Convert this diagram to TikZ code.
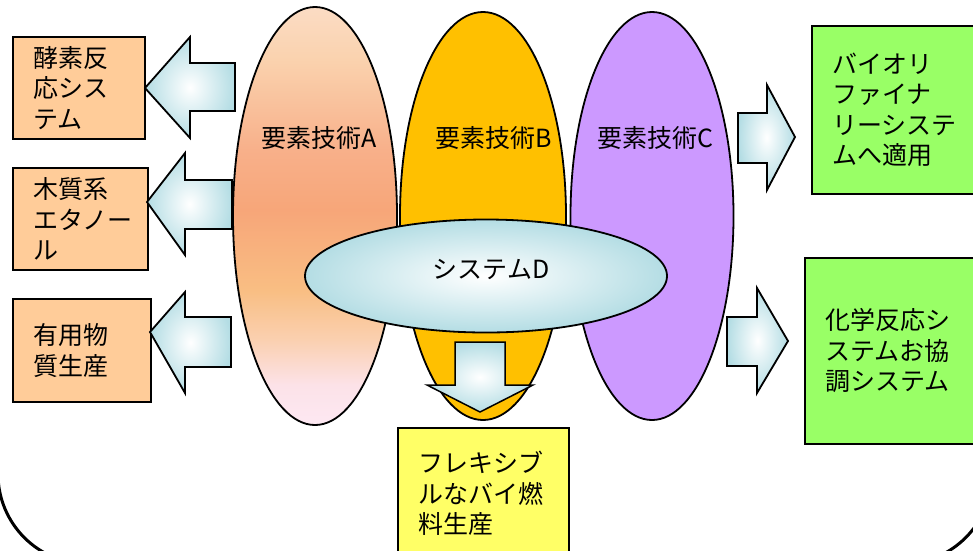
\documentclass[tikz,border=0pt]{standalone}
\usepackage{fontspec}
\setmainfont{Noto Sans CJK JP}
\usetikzlibrary{shapes.geometric}
\definecolor{peach}{HTML}{FFCC99}
\definecolor{lgreen}{HTML}{99FF66}
\definecolor{lyellow}{HTML}{FFFF66}
\definecolor{gold}{HTML}{FFC000}
\definecolor{lilac}{HTML}{CC99FF}
\definecolor{aqua}{HTML}{B4DDE4}
\definecolor{aa1}{HTML}{FBDCC4}
\definecolor{aa2}{HTML}{FAD2AE}
\definecolor{aa3}{HTML}{F8B08A}
\definecolor{aa4}{HTML}{F7A679}
\definecolor{aa5}{HTML}{F9BE83}
\definecolor{aa6}{HTML}{FAD0B0}
\definecolor{aa7}{HTML}{FCE2E8}
\definecolor{aa8}{HTML}{FDE8F2}
\pgfdeclareverticalshading{ashade}{100bp}{color(0bp)=(aa8); color(25bp)=(aa8); color(29.8bp)=(aa7); color(35.2bp)=(aa6); color(41.1bp)=(aa5); color(50.7bp)=(aa4); color(57.9bp)=(aa3); color(68.7bp)=(aa2); color(75bp)=(aa1); color(100bp)=(aa1)}
\tikzset{
  box/.style={draw, line width=2pt, align=left, inner xsep=20pt, inner ysep=0pt, anchor=north west},
  oval/.style={ellipse, draw, line width=1.8pt, inner sep=0pt},
  barrow/.style={draw, line width=1.8pt, line join=miter, inner color=white, outer color=aqua},
  lbl/.style={inner sep=0pt}
}
\begin{document}
\begin{tikzpicture}[x=1pt, y=-1pt, font=\fontsize{25}{30.5}\selectfont]
\useasboundingbox (0,0) rectangle (973,550);
\clip (0,0) rectangle (973,550);
\fill[white] (0,0) rectangle (973,550);
% frame
\draw[line width=3pt, rounded corners=90pt] (-2,-300) rectangle (992,564);
% boxes
\node[box, fill=peach, text width=92pt, minimum height=102pt] (b1) at (12,36) {酵素反\\応シス\\テム};
\node[box, fill=peach, text width=95pt, minimum height=102pt] (b2) at (12,167) {木質系\\エタノー\\ル};
\node[box, fill=peach, text width=98pt, minimum height=103pt] (b3) at (12,298) {有用物\\質生産};
\node[box, fill=lgreen, text width=149pt, minimum height=168pt] (g1) at (811,25) {バイオリ\\ファイナ\\リーシステ\\ムへ適用};
\node[box, fill=lgreen, text width=156pt, minimum height=186pt] (g2) at (804,257) {化学反応シ\\ステムお協\\調システム};
\node[box, fill=lyellow, text width=131pt, minimum height=131pt] (y1) at (397,427) {フレキシブ\\ルなバイ燃\\料生産};
% left arrows
\draw[barrow] (145,88) -- (190,37) -- (190,63) -- (235,63) -- (235,111) -- (190,111) -- (190,138) -- cycle;
\draw[barrow] (147,202) -- (185,153) -- (185,180) -- (232,180) -- (232,229) -- (185,229) -- (185,255) -- cycle;
\draw[barrow] (150,332) -- (185,292) -- (185,317) -- (231,317) -- (231,367) -- (185,367) -- (185,393) -- cycle;
% right arrows
\draw[barrow] (795,137) -- (767,85) -- (767,113) -- (738,113) -- (738,163) -- (767,163) -- (767,190) -- cycle;
\draw[barrow] (788,341) -- (757,288) -- (757,317) -- (727,317) -- (727,366) -- (757,366) -- (757,393) -- cycle;
% ellipses
\node[oval, shading=ashade, minimum width=164pt, minimum height=418pt] (ea) at (315,216) {};
\node[oval, fill=gold, minimum width=166pt, minimum height=408pt] (eb) at (483,216) {};
\node[oval, fill=lilac, minimum width=163pt, minimum height=408pt] (ec) at (652,216) {};
\node[oval, inner color=white, outer color=aqua, minimum width=362pt, minimum height=113pt] (ed) at (486,276) {};
% down arrow
\draw[barrow, line width=1.5pt] (455,342) -- (505,342) -- (505,385) -- (533,385) -- (480,412) -- (427,385) -- (455,385) -- cycle;
% labels
\node[lbl] (la) at (319,138) {要素技術A};
\node[lbl] (lb) at (494,138) {要素技術B};
\node[lbl] (lc) at (655,138) {要素技術C};
\node[lbl] (ld) at (491,269) {システムD};
\end{tikzpicture}
\end{document}
